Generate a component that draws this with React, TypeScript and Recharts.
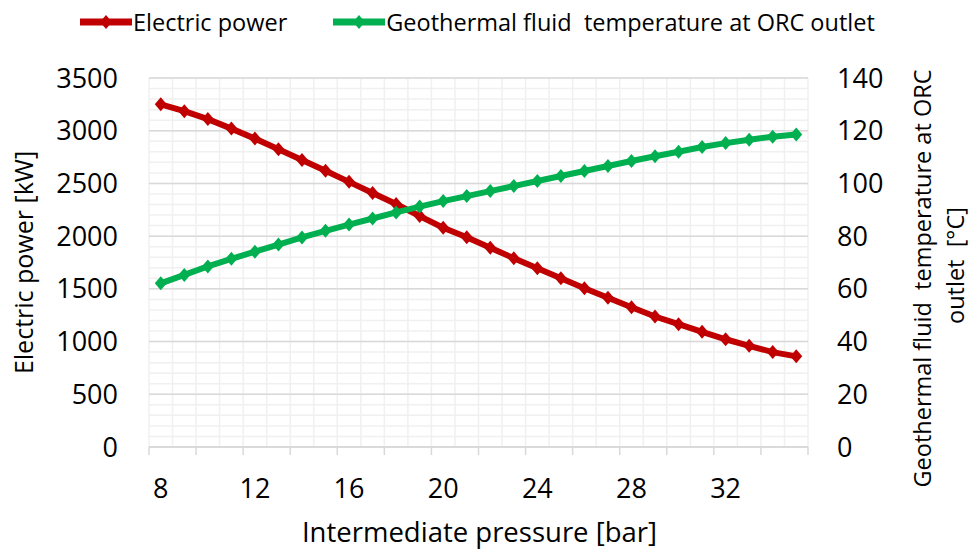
import { LineChart, Line, XAxis, YAxis, CartesianGrid, Legend } from 'recharts'

const pressure = [8, 9, 10, 11, 12, 13, 14, 15, 16, 17, 18, 19, 20, 21, 22, 23, 24, 25, 26, 27, 28, 29, 30, 31, 32, 33, 34, 35]
const electricPower = [3250, 3185, 3110, 3020, 2925, 2825, 2722, 2620, 2515, 2410, 2305, 2190, 2080, 1990, 1890, 1790, 1695, 1600, 1505, 1415, 1325, 1238, 1165, 1092, 1022, 960, 900, 860]
const fluidTemperature = [62.1, 65.3, 68.5, 71.4, 74.1, 76.8, 79.5, 82.0, 84.4, 86.7, 89.0, 91.2, 93.3, 95.2, 97.1, 99.0, 100.9, 102.8, 104.7, 106.6, 108.5, 110.3, 112.0, 113.8, 115.3, 116.6, 117.7, 118.6]
const xTickLabels = [8, 12, 16, 20, 24, 28, 32]
const powerTicks = [0, 500, 1000, 1500, 2000, 2500, 3000, 3500]
const tempTicks = [0, 20, 40, 60, 80, 100, 120, 140]

const data = pressure.map((p, i) => ({ pressure: p, power: electricPower[i], temp: fluidTemperature[i] }))

const FONT = '"Open Sans", sans-serif'
const RED = '#c00000'
const GREEN = '#00b050'
const powerMax = powerTicks[powerTicks.length - 1]

// category boundaries (Excel style), tick marks every second one
const xMin = pressure[0] - 0.5
const xMax = pressure[pressure.length - 1] + 0.5
const boundaries = pressure.map((p) => p - 0.5).concat(xMax)
const tickMarks = boundaries.filter((_, i) => i % 2 === 0)
const xTicks = [...tickMarks, ...xTickLabels].sort((a, b) => a - b)
const minorSteps: number[] = []
for (let v = 0; v <= powerMax; v += 100) minorSteps.push(v)

function XTick(props: any) {
  const { x, y, payload } = props
  if (xTickLabels.includes(payload.value)) {
    return (
      <text x={x} y={y + 40} textAnchor="middle" dominantBaseline="central" fontSize={27} fill="#000" fontFamily={FONT}>
        {payload.value}
      </text>
    )
  }
  return <line x1={x} x2={x} y1={y} y2={y + 8} stroke="#d9d9d9" strokeWidth={1.5} />
}

const diamond = (color: string) => (props: any) => {
  const { cx, cy, index } = props
  return <path key={index} d={`M${cx - 6},${cy} L${cx},${cy - 7} L${cx + 6},${cy} L${cx},${cy + 7} Z`} fill={color} />
}

function LegendItem({ color, text }: { color: string; text: string }) {
  return (
    <div style={{ display: 'flex', alignItems: 'center' }}>
      <svg width={52} height={16}>
        <line x1={1} x2={51} y1={8} y2={8} stroke={color} strokeWidth={7} strokeLinecap="round" />
        <path d="M20,8 L26,1 L32,8 L26,15 Z" fill={color} />
      </svg>
      <span style={{ fontSize: 23.5, color: '#000', marginLeft: 1, whiteSpace: 'pre' }}>{text}</span>
    </div>
  )
}

function LegendContent() {
  return (
    <div style={{ display: 'flex', gap: 46, fontFamily: FONT }}>
      <LegendItem color={RED} text="Electric power" />
      <LegendItem color={GREEN} text="Geothermal fluid  temperature at ORC outlet" />
    </div>
  )
}

function LeftLabel(props: any) {
  const { viewBox } = props
  const cy = viewBox.y + viewBox.height / 2
  return (
    <text x={23} y={cy} transform={`rotate(-90, 23, ${cy})`} textAnchor="middle" dominantBaseline="central" fontSize={25} fill="#000" fontFamily={FONT}>
      Electric power [kW]
    </text>
  )
}

function RightLabel(props: any) {
  const { viewBox } = props
  const cy = viewBox.y + viewBox.height / 2
  const x1 = viewBox.x + 114
  const x2 = viewBox.x + 147
  return (
    <g fontSize={23.5} fill="#000" fontFamily={FONT}>
      <text x={x1} y={cy + 16} transform={`rotate(-90, ${x1}, ${cy + 16})`} textAnchor="middle" dominantBaseline="central" style={{ whiteSpace: 'pre' }}>
        {'Geothermal fluid  temperature at ORC'}
      </text>
      <text x={x2} y={cy + 3} transform={`rotate(-90, ${x2}, ${cy + 3})`} textAnchor="middle" dominantBaseline="central" style={{ whiteSpace: 'pre' }}>
        {'outlet  [°C]'}
      </text>
    </g>
  )
}

function BottomLabel(props: any) {
  const { viewBox } = props
  return (
    <text x={viewBox.x + viewBox.width / 2 + 1} y={531} textAnchor="middle" dominantBaseline="central" fontSize={27.5} fill="#000" fontFamily={FONT}>
      Intermediate pressure [bar]
    </text>
  )
}

export default function App() {
  return (
    <div style={{ position: 'absolute', left: 0, top: 0, width: 970, height: 549, background: '#fff', fontFamily: FONT }}>
      <LineChart width={970} height={549} data={data} margin={{ top: 78, right: 0, bottom: 0, left: 0 }}>
        <CartesianGrid
          stroke="#f0f0f0"
          strokeWidth={1.5}
          horizontalCoordinatesGenerator={({ offset }: any) => minorSteps.map((v) => offset.top + offset.height * (1 - v / powerMax))}
          verticalCoordinatesGenerator={({ offset }: any) => boundaries.map((b) => offset.left + (offset.width * (b - xMin)) / (xMax - xMin))}
        />
        <CartesianGrid
          stroke="#d9d9d9"
          strokeWidth={1.5}
          vertical={false}
          horizontalCoordinatesGenerator={({ offset }: any) => powerTicks.map((v) => offset.top + offset.height * (1 - v / powerMax))}
        />
        <XAxis
          dataKey="pressure"
          type="number"
          domain={[xMin, xMax]}
          ticks={xTicks}
          interval={0}
          height={102}
          tickSize={0}
          tickMargin={0}
          tickLine={false}
          axisLine={{ stroke: '#d9d9d9', strokeWidth: 1.5 }}
          tick={<XTick />}
          label={<BottomLabel />}
        />
        <YAxis
          yAxisId="left"
          domain={[0, powerMax]}
          ticks={powerTicks}
          width={149}
          axisLine={false}
          tickLine={false}
          tickSize={0}
          tickMargin={31}
          tick={{ fontSize: 27, fill: '#000', fontFamily: FONT }}
          label={<LeftLabel />}
        />
        <YAxis
          yAxisId="right"
          orientation="right"
          domain={[0, tempTicks[tempTicks.length - 1]]}
          ticks={tempTicks}
          width={162}
          axisLine={false}
          tickLine={false}
          tickSize={0}
          tickMargin={29}
          tick={{ fontSize: 27, fill: '#000', fontFamily: FONT, textAnchor: 'start' }}
          label={<RightLabel />}
        />
        <Legend
          layout="horizontal"
          verticalAlign="middle"
          align="center"
          content={<LegendContent />}
          wrapperStyle={{ top: 6, left: 80, width: 880 }}
        />
        <Line yAxisId="left" dataKey="power" stroke={RED} strokeWidth={6} dot={diamond(RED)} activeDot={false} isAnimationActive={false} />
        <Line yAxisId="right" dataKey="temp" stroke={GREEN} strokeWidth={6} dot={diamond(GREEN)} activeDot={false} isAnimationActive={false} />
      </LineChart>
    </div>
  )
}
